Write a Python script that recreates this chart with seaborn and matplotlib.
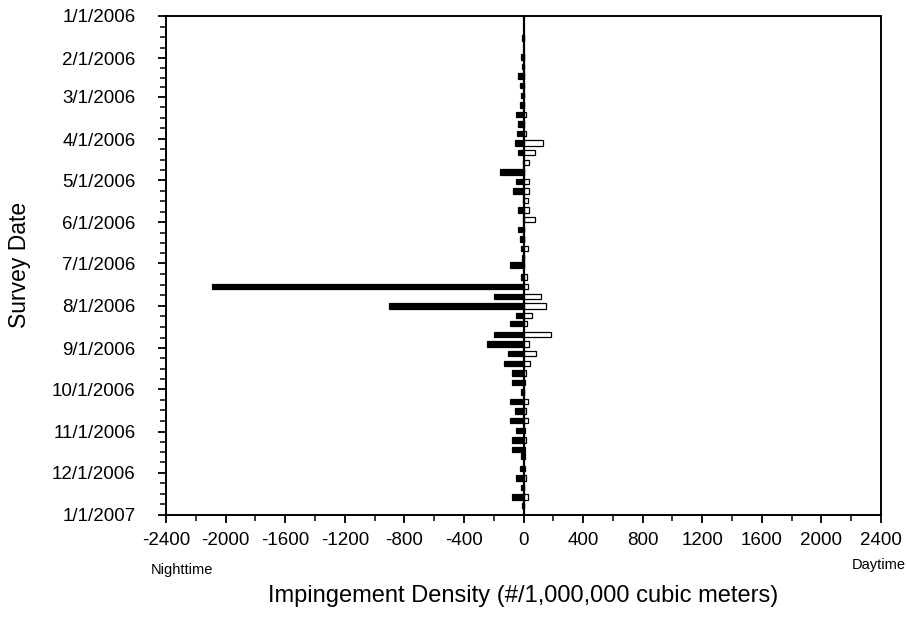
import numpy as np
import pandas as pd
import matplotlib
matplotlib.use("Agg")
import matplotlib.pyplot as plt
import matplotlib.dates as mdates
import seaborn as sns

sns.set_style("ticks")
plt.rcParams["font.family"] = ["Liberation Sans", "DejaVu Sans"]
plt.rcParams["text.color"] = "black"

# survey dates and densities (#/1,000,000 m3)
survey_dates = [
    "2006-01-17", "2006-01-31", "2006-02-07", "2006-02-14", "2006-02-21",
    "2006-02-28", "2006-03-07", "2006-03-14", "2006-03-21", "2006-03-28",
    "2006-04-04", "2006-04-11", "2006-04-18", "2006-04-25", "2006-05-02",
    "2006-05-09", "2006-05-16", "2006-05-23", "2006-05-30", "2006-06-06",
    "2006-06-13", "2006-06-20", "2006-06-27", "2006-07-02", "2006-07-11",
    "2006-07-18", "2006-07-25", "2006-08-01", "2006-08-08", "2006-08-14",
    "2006-08-22", "2006-08-29", "2006-09-05", "2006-09-12", "2006-09-19",
    "2006-09-26", "2006-10-03", "2006-10-10", "2006-10-17", "2006-10-24",
    "2006-10-31", "2006-11-07", "2006-11-14", "2006-11-19", "2006-11-28",
    "2006-12-05", "2006-12-12", "2006-12-19", "2006-12-25",
]
nighttime = [
    10, 20, 12, 36, 25, 18, 25, 50, 40, 45,
    55, 35, 5, 157, 50, 70, 4, 34, 5, 38,
    25, 16, 9, 92, 16, 2091, 195, 901, 51, 89,
    199, 244, 101, 130, 78, 80, 16, 89, 58, 89,
    47, 80, 80, 16, 25, 51, 20, 76, 7,
]
daytime = [
    0, 3, 0, 0, 0, 0, 3, 18, 3, 18,
    128, 78, 40, 0, 40, 38, 31, 34, 74, 0,
    0, 29, 0, 5, 25, 29, 116, 152, 60, 22,
    186, 40, 83, 45, 16, 10, 0, 29, 20, 27,
    11, 20, 7, 8, 8, 18, 5, 27, 0,
]

datenum = mdates.date2num(pd.to_datetime(survey_dates))
n = len(datenum)
df = pd.DataFrame({
    "date": np.concatenate([datenum, datenum]),
    "density": [-v for v in nighttime] + daytime,
    "period": ["Nighttime"] * n + ["Daytime"] * n,
})

fig = plt.figure(figsize=(9.07, 6.18), dpi=100)
ax = fig.add_axes([166 / 907, 1 - 515 / 618, 715 / 907, 499 / 618])

sns.barplot(data=df, x="density", y="date", hue="period", orient="y",
            native_scale=True, dodge=False, errorbar=None, saturation=1,
            palette={"Nighttime": "black", "Daytime": "white"},
            edgecolor="black", linewidth=0.9, width=0.8, legend=False, ax=ax)

ax.axvline(0, color="black", lw=1.6, zorder=5)

# x axis
ax.set_xlim(-2400, 2400)
ax.set_xticks(np.arange(-2400, 2401, 400))
ax.set_xticks(np.arange(-2400, 2401, 200), minor=True)
ax.set_xticklabels([str(v) for v in range(-2400, 2401, 400)])

# y axis: months, top to bottom
months = pd.date_range("2006-01-01", "2007-01-01", freq="MS")
mnum = mdates.date2num(months)
ax.set_ylim(mnum[-1], mnum[0])
ax.set_yticks(mnum)
ax.set_yticklabels([f"{d.month}/{d.day}/{d.year}" for d in months])
minor = [a + (b - a) * k / 4 for a, b in zip(mnum[:-1], mnum[1:]) for k in (1, 2, 3)]
ax.set_yticks(minor, minor=True)

ax.tick_params(axis="both", which="major", length=6, width=1.3, labelsize=13.5,
               color="black", labelcolor="black", direction="out")
ax.tick_params(axis="both", which="minor", length=4, width=1.1, color="black",
               direction="out")
ax.tick_params(axis="x", which="major", pad=6)
ax.tick_params(axis="y", which="major", pad=16)
for s in ax.spines.values():
    s.set_visible(True)
    s.set_color("black")
    s.set_linewidth(1.4)

ax.set_xlabel("")
ax.set_ylabel("")
fig.text(0.577, 1 - 596 / 618, "Impingement Density (#/1,000,000 cubic meters)",
         ha="center", va="center", fontsize=17, color="black")
fig.text(20 / 907, 1 - 265 / 618, "Survey Date", rotation=90,
         ha="center", va="center", fontsize=16.5, color="black")
fig.text(151 / 907, 1 - 570 / 618, "Nighttime", ha="left", va="center",
         fontsize=10.5, color="black")
fig.text(0.999, 1 - 565 / 618, "Daytime", ha="right", va="center",
         fontsize=10.5, color="black")

plt.savefig("out.png", dpi=100)
